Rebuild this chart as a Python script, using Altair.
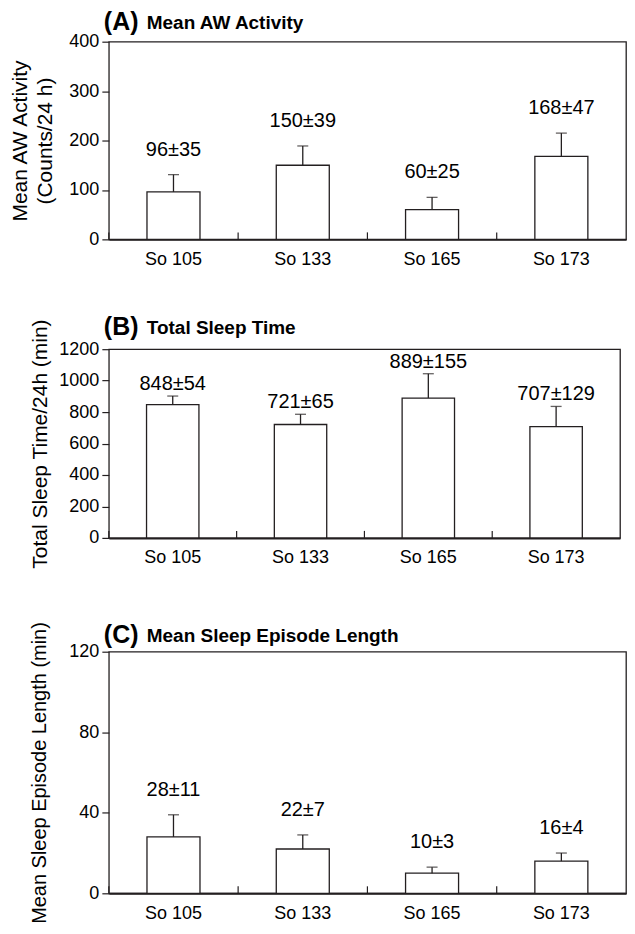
import altair as alt
import pandas as pd

categories = ["So 105", "So 133", "So 165", "So 173"]

aw_mean = [96, 150, 60, 168]
aw_sd = [35, 39, 25, 47]

tst_mean = [848, 721, 889, 707]
tst_sd = [54, 65, 155, 129]

sel_mean = [28, 22, 10, 16]
sel_sd = [11, 7, 3, 4]

panel_letters = ["(A)", "(B)", "(C)"]
panel_names = ["Mean AW Activity", "Total Sleep Time", "Mean Sleep Episode Length"]
y_titles = [["Mean AW Activity", "(Counts/24 h)"],
            "Total Sleep Time/24h (min)",
            "Mean Sleep Episode Length (min)"]
y_ticks = [[0, 100, 200, 300, 400],
           [0, 200, 400, 600, 800, 1000, 1200],
           [0, 40, 80, 120]]

FONT = "Liberation Sans"
INK = "#231f20"


def panel(means, sds, letter, name, ytitle, ticks, width, height,
          label_dy, title_y, title_pad, title_size):
    df = pd.DataFrame({"cat": categories, "mean": means, "sd": sds})
    df["top"] = df["mean"] + df["sd"]
    df["label"] = [f"{m}\u00b1{s}" for m, s in zip(means, sds)]

    xscale = alt.Scale(paddingInner=0, paddingOuter=0)
    x_main = alt.X("cat:N", sort=categories, scale=xscale,
                   axis=alt.Axis(title=None, orient="bottom", ticks=False,
                                 labelAngle=0, labelFontSize=18, labelPadding=11,
                                 domainWidth=2, domainColor=INK, labelColor="black",
                                 labelFont=FONT))
    x_edge = alt.X("cat:N", sort=categories, scale=xscale, bandPosition=0)

    yscale = alt.Scale(domain=[ticks[0], ticks[-1]], nice=False)
    yaxis = alt.Axis(values=ticks, title=ytitle, grid=False, domain=False,
                     format="d",
                     tickSize=7, tickColor=INK, tickWidth=1.2,
                     labelFontSize=18, labelPadding=3, labelColor="black",
                     labelFont=FONT, titleFont=FONT, titleFontSize=title_size,
                     titleFontWeight="normal", titleColor="black",
                     titlePadding=title_pad, titleLineHeight=25)

    base = alt.Chart(df)
    bars = base.mark_bar(fill="white", stroke=INK, strokeWidth=1.3,
                         width=alt.RelativeBandSize(0.41)).encode(
        x=x_main, y=alt.Y("mean:Q", scale=yscale, axis=yaxis))
    err = base.mark_rule(color=INK, strokeWidth=1.3).encode(
        x="cat:N", y=alt.Y("mean:Q", scale=yscale, axis=yaxis), y2="top:Q")
    cap = base.mark_tick(color=INK, thickness=1.3, size=11, orient="horizontal").encode(
        x="cat:N", y=alt.Y("top:Q", scale=yscale, axis=yaxis))
    lab = base.mark_text(font=FONT, fontSize=20, color="black",
                         baseline="middle", dy=-label_dy).encode(
        x="cat:N", y=alt.Y("top:Q", scale=yscale, axis=yaxis), text="label:N")
    edge_ticks = base.mark_rule(color=INK, strokeWidth=1.2).encode(
        x=x_edge, y=alt.value(height), y2=alt.value(height - 7))

    t1 = alt.Chart(pd.DataFrame({"t": [letter]})).mark_text(
        font=FONT, fontSize=25, fontWeight="bold", align="left",
        baseline="middle", color="black").encode(
        text="t:N", x=alt.value(-5), y=alt.value(title_y))
    t2 = alt.Chart(pd.DataFrame({"t": [name]})).mark_text(
        font=FONT, fontSize=19, fontWeight="bold", align="left",
        baseline="middle", color="black").encode(
        text="t:N", x=alt.value(38), y=alt.value(title_y + 1))

    return alt.layer(bars, err, cap, lab, edge_ticks, t1, t2).properties(
        width=width, height=height)


pA = panel(aw_mean, aw_sd, panel_letters[0], panel_names[0], y_titles[0],
           y_ticks[0], 518, 198, 25, -20, 13, 21)
pB = panel(tst_mean, tst_sd, panel_letters[1], panel_names[1], y_titles[1],
           y_ticks[1], 512, 189, 12, -22, 8, 21)
pC = panel(sel_mean, sel_sd, panel_letters[2], panel_names[2], y_titles[2],
           y_ticks[2], 518, 242, 25, -17, 19, 20)

top_block = alt.vconcat(pA, pB, spacing=45)
chart = alt.vconcat(top_block, pC, spacing=51).properties(
    padding={"top": 0, "left": 1, "right": 0, "bottom": 0}
).configure(
    background="white",
    view=alt.ViewConfig(stroke=INK, strokeWidth=1.3),
)

chart.save("out.html", embed_options={"renderer": "svg", "actions": False})
